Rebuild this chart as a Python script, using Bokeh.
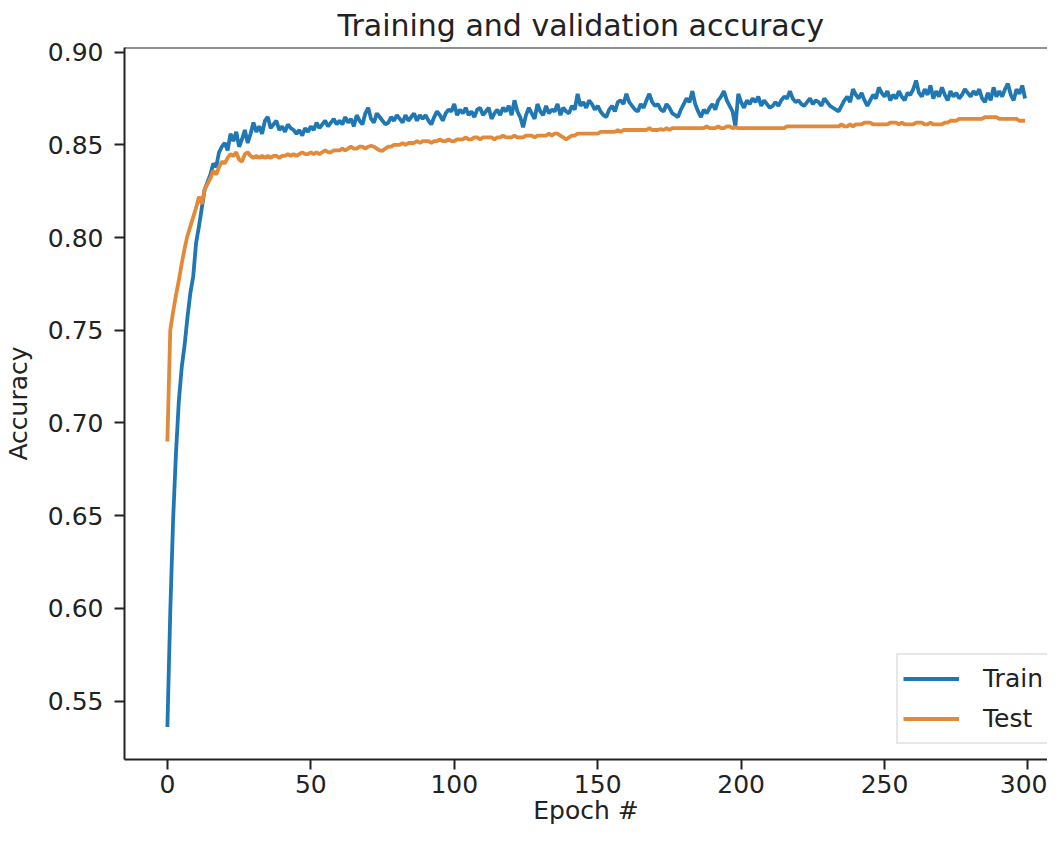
from bokeh.plotting import figure
from bokeh.models import Range1d, FixedTicker, NumeralTickFormatter, Legend, LegendItem, Span
from bokeh.embed import file_html
from bokeh.resources import INLINE

title_text = "Training and validation accuracy"
x_label = "Epoch #"
y_label = "Accuracy"
x_ticks = [0, 50, 100, 150, 200, 250, 300]
y_ticks = [0.55, 0.60, 0.65, 0.70, 0.75, 0.80, 0.85, 0.90]
series_names = ["Train", "Test"]

train_acc = [
    0.536, 0.598, 0.648, 0.684, 0.712, 0.730, 0.742, 0.757, 0.770, 0.779,
    0.797, 0.806, 0.816, 0.826, 0.830, 0.834, 0.840, 0.838, 0.846, 0.849,
    0.851, 0.847, 0.856, 0.852, 0.857, 0.849, 0.853, 0.858, 0.851, 0.856,
    0.862, 0.857, 0.860, 0.856, 0.863, 0.865, 0.859, 0.861, 0.863, 0.858,
    0.860, 0.857, 0.861, 0.859, 0.858, 0.856, 0.858, 0.855, 0.859, 0.857,
    0.860, 0.858, 0.862, 0.859, 0.861, 0.863, 0.860, 0.862, 0.864, 0.861,
    0.863, 0.861, 0.865, 0.862, 0.864, 0.860, 0.866, 0.863, 0.861, 0.867,
    0.870, 0.864, 0.862, 0.867, 0.865, 0.863, 0.861, 0.862, 0.865, 0.863,
    0.866, 0.864, 0.862, 0.866, 0.863, 0.865, 0.867, 0.863, 0.866, 0.864,
    0.866, 0.863, 0.861, 0.865, 0.868, 0.866, 0.863, 0.867, 0.869, 0.868,
    0.872, 0.866, 0.869, 0.867, 0.870, 0.866, 0.868, 0.865, 0.869, 0.870,
    0.866, 0.868, 0.870, 0.864, 0.867, 0.869, 0.866, 0.870, 0.868, 0.871,
    0.866, 0.874, 0.868, 0.865, 0.8595, 0.866, 0.870, 0.867, 0.864, 0.872,
    0.868, 0.866, 0.871, 0.867, 0.869, 0.868, 0.872, 0.866, 0.870, 0.868,
    0.867, 0.871, 0.869, 0.8775, 0.871, 0.873, 0.870, 0.874, 0.872, 0.869,
    0.871, 0.868, 0.866, 0.865, 0.869, 0.871, 0.868, 0.873, 0.874, 0.872,
    0.8775, 0.873, 0.871, 0.869, 0.868, 0.872, 0.870, 0.874, 0.8775, 0.873,
    0.871, 0.872, 0.869, 0.868, 0.872, 0.870, 0.867, 0.866, 0.865, 0.869,
    0.872, 0.875, 0.873, 0.879, 0.872, 0.868, 0.865, 0.869, 0.867, 0.870,
    0.872, 0.869, 0.874, 0.876, 0.879, 0.874, 0.871, 0.868, 0.860, 0.8775,
    0.873, 0.870, 0.874, 0.872, 0.875, 0.873, 0.876, 0.871, 0.874, 0.872,
    0.870, 0.871, 0.873, 0.871, 0.874, 0.876, 0.875, 0.879, 0.875, 0.873,
    0.874, 0.872, 0.871, 0.873, 0.875, 0.872, 0.874, 0.873, 0.871, 0.875,
    0.873, 0.871, 0.870, 0.869, 0.868, 0.871, 0.874, 0.876, 0.873, 0.880,
    0.877, 0.875, 0.878, 0.874, 0.871, 0.874, 0.877, 0.875, 0.881, 0.878,
    0.876, 0.879, 0.874, 0.877, 0.875, 0.879, 0.876, 0.874, 0.878, 0.877,
    0.880, 0.8847, 0.878, 0.876, 0.880, 0.877, 0.882, 0.875, 0.879, 0.876,
    0.881, 0.877, 0.874, 0.879, 0.876, 0.878, 0.875, 0.877, 0.880, 0.878,
    0.876, 0.879, 0.877, 0.880, 0.875, 0.873, 0.878, 0.874, 0.881, 0.876,
    0.879, 0.876, 0.880, 0.883, 0.877, 0.874, 0.880, 0.8775, 0.882, 0.875,
]

test_acc = [
    0.690, 0.750, 0.760, 0.769, 0.777, 0.786, 0.794, 0.801, 0.806, 0.811,
    0.816, 0.822, 0.818, 0.826, 0.829, 0.832, 0.836, 0.834, 0.838, 0.841,
    0.840, 0.843, 0.845, 0.844, 0.846, 0.842, 0.841, 0.845, 0.846, 0.844,
    0.843, 0.844, 0.843, 0.844, 0.843, 0.844, 0.843, 0.844, 0.844, 0.843,
    0.844, 0.844, 0.845, 0.844, 0.845, 0.844, 0.845, 0.846, 0.845, 0.845,
    0.846, 0.845, 0.846, 0.845, 0.846, 0.847, 0.846, 0.846, 0.847, 0.847,
    0.847, 0.848, 0.847, 0.848, 0.849, 0.848, 0.848, 0.849, 0.849, 0.848,
    0.849, 0.8495, 0.849, 0.848, 0.847, 0.8468, 0.848, 0.849, 0.849, 0.850,
    0.850, 0.850, 0.851, 0.850, 0.851, 0.851, 0.851, 0.852, 0.851, 0.852,
    0.852, 0.852, 0.851, 0.852, 0.852, 0.853, 0.852, 0.852, 0.853, 0.852,
    0.852, 0.853, 0.853, 0.853, 0.854, 0.853, 0.853, 0.854, 0.854, 0.853,
    0.854, 0.854, 0.854, 0.854, 0.853, 0.854, 0.854, 0.855, 0.854, 0.854,
    0.854, 0.855, 0.854, 0.854, 0.854, 0.855, 0.855, 0.855, 0.854, 0.855,
    0.855, 0.855, 0.855, 0.856, 0.855, 0.856, 0.856, 0.855, 0.854, 0.853,
    0.854, 0.855, 0.855, 0.856, 0.856, 0.856, 0.856, 0.856, 0.856, 0.856,
    0.856, 0.857, 0.857, 0.857, 0.857, 0.857, 0.857, 0.858, 0.857, 0.858,
    0.858, 0.858, 0.858, 0.858, 0.858, 0.858, 0.858, 0.858, 0.859, 0.858,
    0.858, 0.858, 0.8585, 0.858, 0.859, 0.858, 0.859, 0.859, 0.859, 0.859,
    0.859, 0.859, 0.859, 0.859, 0.859, 0.859, 0.859, 0.859, 0.860, 0.859,
    0.859, 0.859, 0.860, 0.859, 0.859, 0.860, 0.860, 0.859, 0.8594, 0.859,
    0.859, 0.859, 0.859, 0.859, 0.859, 0.859, 0.859, 0.859, 0.859, 0.859,
    0.859, 0.859, 0.859, 0.859, 0.859, 0.859, 0.860, 0.860, 0.860, 0.860,
    0.860, 0.860, 0.860, 0.860, 0.860, 0.860, 0.860, 0.860, 0.860, 0.860,
    0.860, 0.860, 0.860, 0.860, 0.860, 0.861, 0.860, 0.860, 0.861, 0.860,
    0.861, 0.861, 0.861, 0.862, 0.862, 0.862, 0.861, 0.861, 0.861, 0.861,
    0.861, 0.861, 0.862, 0.862, 0.862, 0.861, 0.862, 0.861, 0.861, 0.861,
    0.861, 0.862, 0.862, 0.862, 0.861, 0.861, 0.862, 0.861, 0.861, 0.861,
    0.861, 0.862, 0.862, 0.863, 0.863, 0.863, 0.864, 0.864, 0.864, 0.864,
    0.864, 0.864, 0.864, 0.864, 0.864, 0.865, 0.865, 0.865, 0.865, 0.865,
    0.864, 0.864, 0.864, 0.864, 0.864, 0.864, 0.864, 0.863, 0.863, 0.863,
]

epochs = list(range(len(train_acc)))

FONT = "DejaVu Sans"
TXT = "#222222"
AX = "#222222"

p = figure(
    width=1047, height=827,
    output_backend="svg", toolbar_location=None,
    x_range=Range1d(-14.95, 306.8), y_range=Range1d(0.5185, 0.9025),
    min_border_left=120, min_border_right=0, min_border_top=47, min_border_bottom=10,
)
p.outline_line_color = None
p.xgrid.visible = False
p.ygrid.visible = False
p.background_fill_color = "white"
p.border_fill_color = "white"

p.title.text = title_text
p.title.text_font = FONT
p.title.text_font_size = "30px"
p.title.text_font_style = "normal"
p.title.text_color = TXT
p.title.align = "left"
p.title.offset = 213
p.title.standoff = 9

for ax in (p.xaxis[0], p.yaxis[0]):
    ax.axis_line_color = AX
    ax.axis_line_width = 2
    ax.major_tick_line_color = AX
    ax.major_tick_line_width = 2
    ax.major_tick_out = 10
    ax.major_tick_in = 0
    ax.minor_tick_line_color = None
    ax.major_label_text_font = FONT
    ax.major_label_text_font_size = "25px"
    ax.major_label_text_color = TXT
    ax.axis_label_text_font = FONT
    ax.axis_label_text_font_size = "25px"
    ax.axis_label_text_font_style = "normal"
    ax.axis_label_text_color = TXT

p.xaxis[0].ticker = FixedTicker(ticks=x_ticks)
p.yaxis[0].ticker = FixedTicker(ticks=y_ticks)
p.yaxis[0].formatter = NumeralTickFormatter(format="0.00")
p.xaxis[0].axis_label = x_label
p.yaxis[0].axis_label = y_label
p.xaxis[0].major_label_standoff = 5
p.xaxis[0].axis_label_standoff = 0
p.yaxis[0].major_label_standoff = 11
p.yaxis[0].axis_label_standoff = 12

top_spine = Span(location=0.9025, dimension="width", line_color=AX, line_width=2)
p.add_layout(top_spine)

r_train = p.line(epochs, train_acc, line_color="#1f77b4", line_width=3.8)
r_test = p.line(epochs, test_acc, line_color="#e3893a", line_width=3.8)

legend = Legend(
    items=[LegendItem(label=series_names[0], renderers=[r_train]),
           LegendItem(label=series_names[1], renderers=[r_test])],
    location=(772, 15),
    label_text_font=FONT, label_text_font_size="25px", label_text_color=TXT,
    glyph_width=56, glyph_height=37, label_height=37, label_standoff=24,
    spacing=3, padding=5, margin=0,
    border_line_color="#d0d0d0", border_line_width=2,
    background_fill_color="white", background_fill_alpha=0.85,
)
p.add_layout(legend, "center")

open("out.html", "w").write(file_html(p, INLINE))
